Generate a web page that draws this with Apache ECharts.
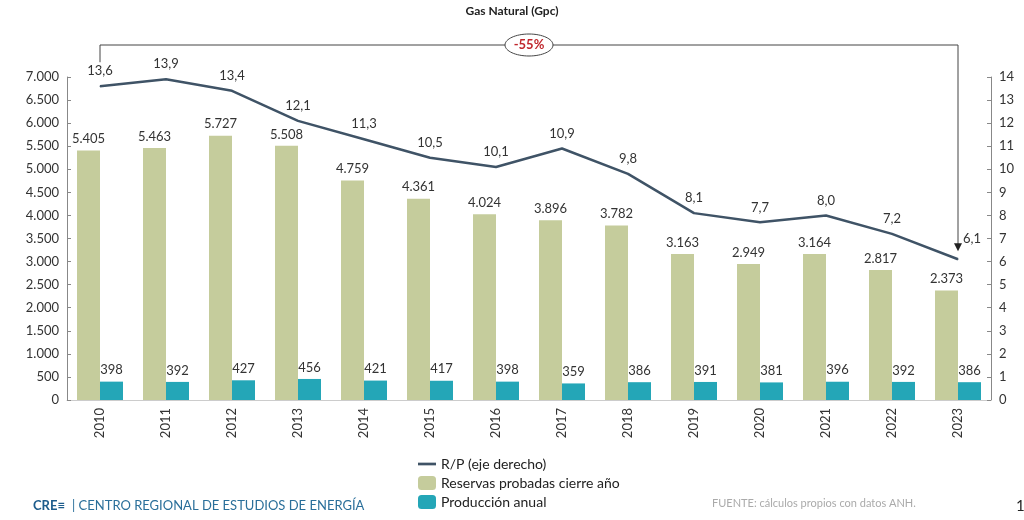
<!DOCTYPE html><html><head><meta charset="utf-8"><script src="https://cdn.jsdelivr.net/npm/echarts@6/dist/echarts.min.js"></script>
<style>body{margin:0;background:#fff}#c{width:1024px;height:520px}</style></head><body><div id="c"></div><script>
const years=['2010','2011','2012','2013','2014','2015','2016','2017','2018','2019','2020','2021','2022','2023'];
const reservas=[5405,5463,5727,5508,4759,4361,4024,3896,3782,3163,2949,3164,2817,2373];
const produccion=[398,392,427,456,421,417,398,359,386,391,381,396,392,386];
const rp=[13.6,13.9,13.4,12.1,11.3,10.5,10.1,10.9,9.8,8.1,7.7,8.0,7.2,6.1];
const fmt=v=>String(v).replace(/\B(?=(\d{3})+(?!\d))/g,'.');
const rpFmt=v=>v.toFixed(1).replace('.',',');
const f='Lato';
const c=echarts.init(document.getElementById('c'));
const last=rp.length-1;
const rpData=rp.map((v,i)=>i===last?{value:v,label:{show:false}}:v);
c.setOption({
textStyle:{fontFamily:f},
title:{text:'Gas Natural (Gpc)',left:'center',top:0,textStyle:{fontSize:12,fontWeight:'bold',color:'#222',fontFamily:f}},
grid:{left:67,right:33,top:77,bottom:120},
legend:{orient:'vertical',left:413,top:452,itemGap:5,itemWidth:18,itemHeight:14,textStyle:{fontSize:14,color:'#222',fontFamily:f},
 data:[{name:'R/P (eje derecho)',icon:'path://M0,6H20V9H0Z',itemStyle:{color:'#3f5366'}},'Reservas probadas cierre año','Producción anual']},
xAxis:{type:'category',data:years,axisTick:{show:false},axisLine:{lineStyle:{color:'#ccc'}},axisLabel:{rotate:90,color:'#333',fontSize:13,margin:8}},
yAxis:[{type:'value',min:0,max:7000,interval:500,splitLine:{show:false},axisLine:{show:true,lineStyle:{color:'#888'}},axisTick:{show:true,inside:true,length:4},
 axisLabel:{color:'#333',fontSize:13,formatter:fmt}},
 {type:'value',min:0,max:14,interval:1,splitLine:{show:false},axisLine:{show:true,lineStyle:{color:'#888'}},axisTick:{show:true,inside:true,length:4},axisLabel:{color:'#333',fontSize:13}}],
series:[
{name:'Reservas probadas cierre año',type:'bar',data:reservas,barWidth:23,barGap:'0%',itemStyle:{color:'#c5cc9c'},label:{show:true,position:'top',color:'#333',fontSize:13,formatter:p=>fmt(p.value)}},
{name:'Producción anual',type:'bar',data:produccion,barWidth:23,itemStyle:{color:'#24a6b7'},label:{show:true,position:'top',color:'#333',fontSize:13}},
{name:'R/P (eje derecho)',type:'line',yAxisIndex:1,data:rpData,symbol:'circle',symbolSize:1,showSymbol:true,lineStyle:{color:'#3f5366',width:2.5},itemStyle:{color:'#3f5366'},z:5,
 labelLayout:{hideOverlap:false},
 label:{show:true,position:'top',distance:8,color:'#333',fontSize:13,formatter:p=>rpFmt(p.value)}}
]});
const a=c.convertToPixel({xAxisIndex:0,yAxisIndex:1},[0,rp[0]]);
const b=c.convertToPixel({xAxisIndex:0,yAxisIndex:1},[last,rp[last]]);
const topY=45,mid=(a[0]+b[0])/2;
c.setOption({graphic:[
{type:'polyline',shape:{points:[[a[0],a[1]-24],[a[0],topY],[b[0],topY],[b[0],b[1]-12]]},style:{stroke:'#444',lineWidth:1,fill:null}},
{type:'polygon',shape:{points:[[b[0]-4,b[1]-16],[b[0]+4,b[1]-16],[b[0],b[1]-8]]},style:{fill:'#222'}},
{type:'text',x:b[0]+14,y:b[1]-20,style:{text:rpFmt(rp[last]),fill:'#333',font:'13px Lato',align:'center',verticalAlign:'middle'}},
{type:'ellipse',shape:{cx:mid,cy:topY,rx:24,ry:11},style:{fill:'#fff',stroke:'#444',lineWidth:1}},
{type:'text',x:mid,y:topY,style:{text:'-55%',fill:'#c0272d',font:'bold 13px Lato',align:'center',verticalAlign:'middle'}},
{type:'text',x:33,y:506,style:{text:'CRE≡',fill:'#1d5c8c',font:'bold 13px Lato',verticalAlign:'middle'}},
{type:'text',x:72,y:506,style:{text:'| CENTRO REGIONAL DE ESTUDIOS DE ENERGÍA',fill:'#2a6f9a',font:'13px Lato',verticalAlign:'middle'}},
{type:'text',x:712,y:503,style:{text:'FUENTE: cálculos propios con datos ANH.',fill:'#aaa',font:'11px Lato',verticalAlign:'middle'}},
{type:'text',x:1016,y:506,style:{text:'1',fill:'#222',font:'15px Lato',verticalAlign:'middle'}}
]});
</script></body></html>
